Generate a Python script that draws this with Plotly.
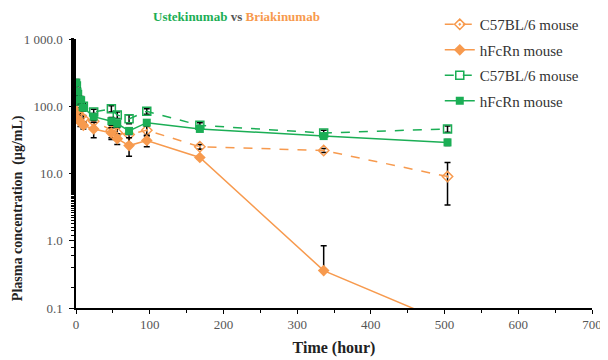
import plotly.graph_objects as go

# ---- data ----
time_h = [0.5, 2, 6, 10, 24, 48, 56, 72, 96, 168, 336, 504]

uste_c57 = [200, 150, 120, 100, 82, 92, 74, 65, 84, 52, 40, 46]
uste_c57_sd = [30, 20, 15, 10, 8, 10, 8, 10, 8, 5, 4, 5]

uste_hfcrn = [225, 165, 125, 95, 70, 60, 55, 43, 57, 46, 36, 29]
uste_hfcrn_sd = [25, 20, 15, 10, 8, 8, 6, 5, 6, 4, 3, 3]

bria_c57 = [95, 80, 70, 65, 60, 44, 40, 38, 44, 25, 22, 9.0]
bria_c57_sd = [10, 8, 8, 8, 12, 10, 8, 10, 8, 2, 1.5, 5.6]

bria_hfcrn = [85, 65, 58, 52, 46, 40, 33, 26, 31, 17.3, 0.36, 0.06]
bria_hfcrn_sd_plus = [10, 8, 8, 6, 12, 8, 6, 8, 6, 1, 0.48, 0.03]
bria_hfcrn_sd_minus = [10, 8, 8, 6, 12, 8, 6, 8, 6, 1, 0.0, 0.0]

y_tickvals = [0.1, 1, 10, 100, 1000]
y_ticktext = ["0.1", "1.0", "10.0", "100.0", "1 000.0"]
x_tickvals = [0, 100, 200, 300, 400, 500, 600, 700]

ORANGE = "#F79A4E"
GREEN = "#1BAE55"
SERIF = "Liberation Serif, Times New Roman, serif"

def eb(plus, minus=None):
    d = dict(type="data", array=plus, color="black", thickness=1.5, width=3, visible=True)
    if minus is not None:
        d["symmetric"] = False
        d["arrayminus"] = minus
    return d

fig = go.Figure()
fig.add_trace(go.Scatter(
    x=time_h, y=bria_c57, name="C57BL/6 mouse", mode="lines+markers",
    line=dict(color=ORANGE, width=1.5, dash="dash"),
    marker=dict(symbol="diamond-open-dot", size=8, color=ORANGE, line=dict(width=1.5)),
    error_y=eb(bria_c57_sd), legendgroup="a"))
fig.add_trace(go.Scatter(
    x=time_h, y=bria_hfcrn, name="hFcRn mouse", mode="lines+markers",
    line=dict(color=ORANGE, width=1.5),
    marker=dict(symbol="diamond", size=9, color=ORANGE),
    error_y=eb(bria_hfcrn_sd_plus, bria_hfcrn_sd_minus), legendgroup="b"))
fig.add_trace(go.Scatter(
    x=time_h, y=uste_c57, name="C57BL/6 mouse", mode="lines+markers",
    line=dict(color=GREEN, width=1.5, dash="dash"),
    marker=dict(symbol="square-open", size=8, color=GREEN, line=dict(width=1.5)),
    error_y=eb(uste_c57_sd), legendgroup="c"))
fig.add_trace(go.Scatter(
    x=time_h, y=uste_hfcrn, name="hFcRn mouse", mode="lines+markers",
    line=dict(color=GREEN, width=1.5),
    marker=dict(symbol="square", size=8, color=GREEN),
    error_y=eb(uste_hfcrn_sd), legendgroup="d"))

# page body has an 8px margin, so the figure is 600x352 and offset by 8px
fig.update_layout(
    width=600, height=352,
    margin=dict(l=68, r=16, t=31, b=52, autoexpand=False),
    paper_bgcolor="white", plot_bgcolor="white",
    font=dict(family=SERIF, size=13, color="#333333"),
    showlegend=True,
    legend=dict(x=0.705, y=1.115, xanchor="left", yanchor="top",
                font=dict(family=SERIF, size=15, color="#333333"),
                tracegroupgap=3, bgcolor="rgba(0,0,0,0)"),
    xaxis=dict(range=[0, 700], tickvals=x_tickvals, showline=True, linecolor="black",
               linewidth=1.5, ticks="outside", ticklen=4, tickcolor="black",
               showgrid=False, zeroline=False,
               minor=dict(ticks="outside", ticklen=3, dtick=50, tickcolor="black", showgrid=False),
               tickfont=dict(family=SERIF, size=13, color="#555555"),
               title=dict(text="<b>Time (hour)</b>", font=dict(family=SERIF, size=16, color="#222222"),
                          standoff=10)),
    yaxis=dict(type="log", range=[-1, 3], tickvals=y_tickvals, ticktext=y_ticktext,
               showline=True, linecolor="black", linewidth=1.5, ticks="outside",
               ticklen=5, tickcolor="black", showgrid=False, zeroline=False,
               ticklabelstandoff=4,
               minor=dict(ticks="outside", ticklen=3, tickcolor="black", showgrid=False),
               tickfont=dict(family=SERIF, size=13, color="#555555"),
               ),
    annotations=[
        dict(text=f"<b><span style='color:{GREEN}'>Ustekinumab</span> vs <span style='color:{ORANGE}'>Briakinumab</span></b>",
             xref="paper", yref="paper", x=0.312, y=1.082, xanchor="center", yanchor="middle",
             showarrow=False, font=dict(family=SERIF, size=13, color="#555555")),
        dict(text="<b>Plasma concentration  (μg/mL)</b>", textangle=-90,
             xref="paper", yref="paper", x=-0.112, y=0.372, xanchor="center", yanchor="middle",
             showarrow=False, font=dict(family=SERIF, size=14, color="#222222")),
    ],
)

fig.write_html("out.html")
